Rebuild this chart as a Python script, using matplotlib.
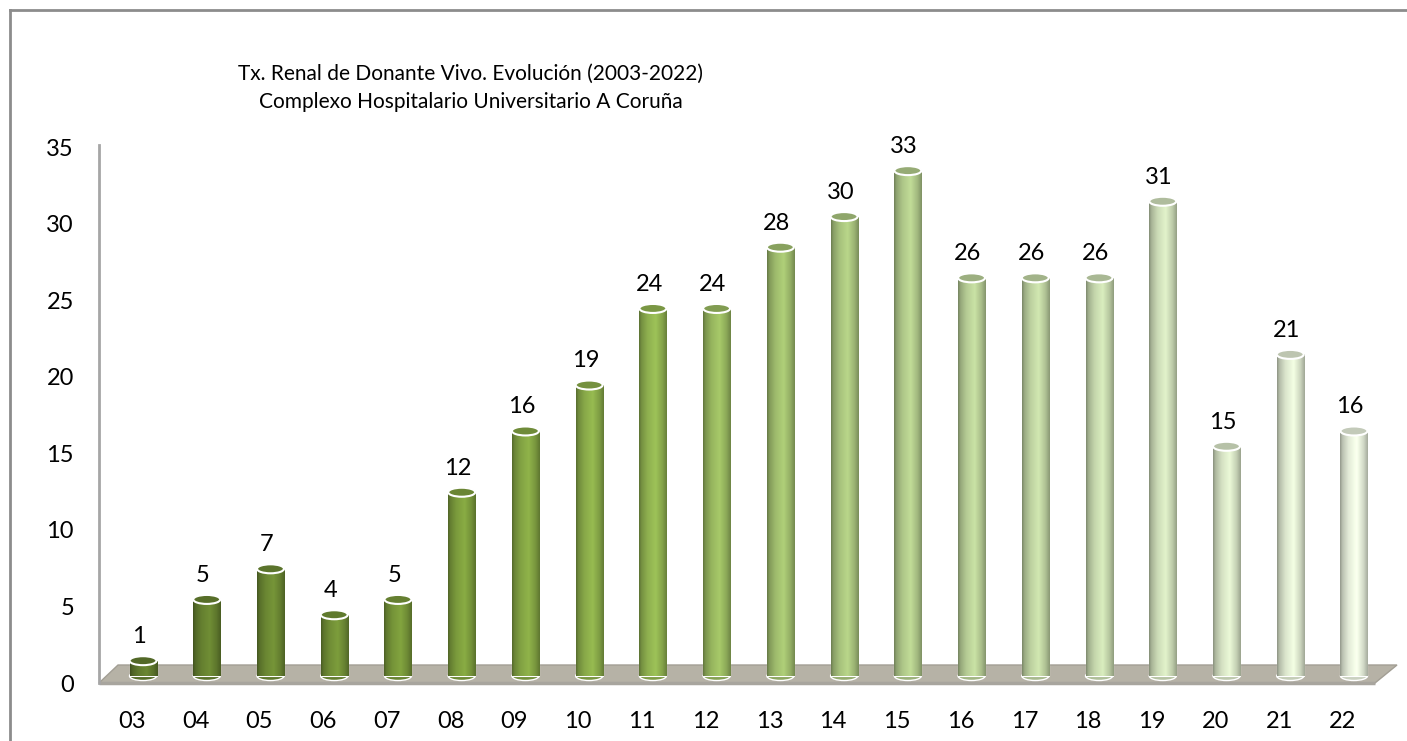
import matplotlib.pyplot as plt
from matplotlib.colors import LinearSegmentedColormap, to_rgb
from matplotlib.patches import Ellipse, Polygon
from matplotlib.lines import Line2D
import numpy as np

years = ["03", "04", "05", "06", "07", "08", "09", "10", "11", "12",
         "13", "14", "15", "16", "17", "18", "19", "20", "21", "22"]
values = [1, 5, 7, 4, 5, 12, 16, 19, 24, 24,
          28, 30, 33, 26, 26, 26, 31, 15, 21, 16]
y_ticks = [0, 5, 10, 15, 20, 25, 30, 35]
title = "Tx. Renal de Donante Vivo. Evolución (2003-2022)\nComplexo Hospitalario Universitario A Coruña"

plt.rcParams['font.family'] = ['Lato', 'DejaVu Sans']

W, H = 1407, 741
fig = plt.figure(figsize=(W / 100, H / 100), dpi=100)
# axes placed in pixel terms of the original picture
ax_l, ax_r, ax_t, ax_b = 99, 1397, 147, 683
ax = fig.add_axes([ax_l / W, 1 - ax_b / H, (ax_r - ax_l) / W, (ax_b - ax_t) / H])

px_x = 63.7                       # pixels per category
px_y = (ax_b - ax_t) / 35.0       # pixels per unit
x_lo = -(132 - ax_l) / px_x
x_hi = 19 + (ax_r - 1343) / px_x

dx = 11 / px_x      # 3d offset of the bars
dy = 7 / px_y
w = 27 / px_x
eh = 9 / px_y

bar_cmap = LinearSegmentedColormap.from_list(
    "greens", [(0.0, "#647f2f"), (0.25, "#80a13e"), (0.42, "#95b853"),
               (0.6, "#b2cd88"), (0.8, "#cfe1b6"), (1.0, "#eef6e2")])

# floor of the 3d plot
depth = 18 / px_y
x_front_r = 19 + (1375 - 1343) / px_x
floor = Polygon([(x_lo, 0), (x_front_r, 0),
                 (x_hi, depth), (x_lo + 19 / px_x, depth)],
                closed=True, facecolor="#b6b2a6", edgecolor="#a29e94",
                linewidth=1.0, zorder=1, clip_on=False)
ax.add_patch(floor)
ax.plot([x_lo, x_front_r], [0, 0], color="#a8a59e",
        lw=2.5, zorder=1.5, clip_on=False, solid_capstyle="butt")

# cylinder shading across the width
t = np.linspace(0, 1, 60)
shade = np.interp(t, [0, 0.08, 0.3, 0.6, 0.85, 1.0],
                  [0.62, 0.78, 0.95, 1.06, 0.88, 0.7])

n = len(values)
for i, v in enumerate(values):
    base = np.array(to_rgb(bar_cmap(i / (n - 1))))
    cx = i + dx
    grad = np.clip(base[None, None, :] * shade[None, :, None], 0, 1)
    # bottom rounding
    ax.add_patch(Ellipse((cx, dy), w, eh, facecolor=base * 0.85,
                         edgecolor="white", linewidth=1.0, zorder=2.9))
    b = ax.bar(cx, v, width=w, bottom=dy, color=base, edgecolor="white",
               linewidth=0.8, zorder=3)[0]
    im = ax.imshow(grad, extent=(cx - w / 2, cx + w / 2, dy, dy + v),
                   aspect="auto", zorder=3.1, interpolation="bilinear")
    im.set_clip_path(b)
    ax.add_patch(Ellipse((cx, dy + v), w, eh, facecolor=base * 0.82,
                         edgecolor="white", linewidth=1.5, zorder=3.2))
    ax.text(cx - 0.06, dy + v + 1.15, str(v), ha="center", va="baseline",
            fontsize=17, color="black", zorder=4)

ax.set_xlim(x_lo, x_hi)
ax.set_ylim(0, 35)
ax.set_xticks(range(n))
ax.set_xticklabels(years)
ax.set_yticks(y_ticks)
ax.tick_params(axis="x", length=0, pad=20, labelsize=17)
ax.tick_params(axis="y", length=0, pad=18, labelsize=17)
for s in ["top", "right", "bottom"]:
    ax.spines[s].set_visible(False)
ax.spines["left"].set_color("#a6a6a6")
ax.spines["left"].set_linewidth(2)
ax.spines["left"].set_bounds(0, 35.1)

fig.text(471 / W, 1 - 88 / H, title, ha="center", va="center",
         fontsize=15, linespacing=1.5)

# chart border (cut at right and bottom)
fig.add_artist(Line2D([10 / W, 10 / W], [0, 1 - 10 / H], color="#8c8c8c", lw=2))
fig.add_artist(Line2D([10 / W, 1], [1 - 10 / H, 1 - 10 / H], color="#8c8c8c", lw=2))

fig.savefig("out.png", dpi=100)
